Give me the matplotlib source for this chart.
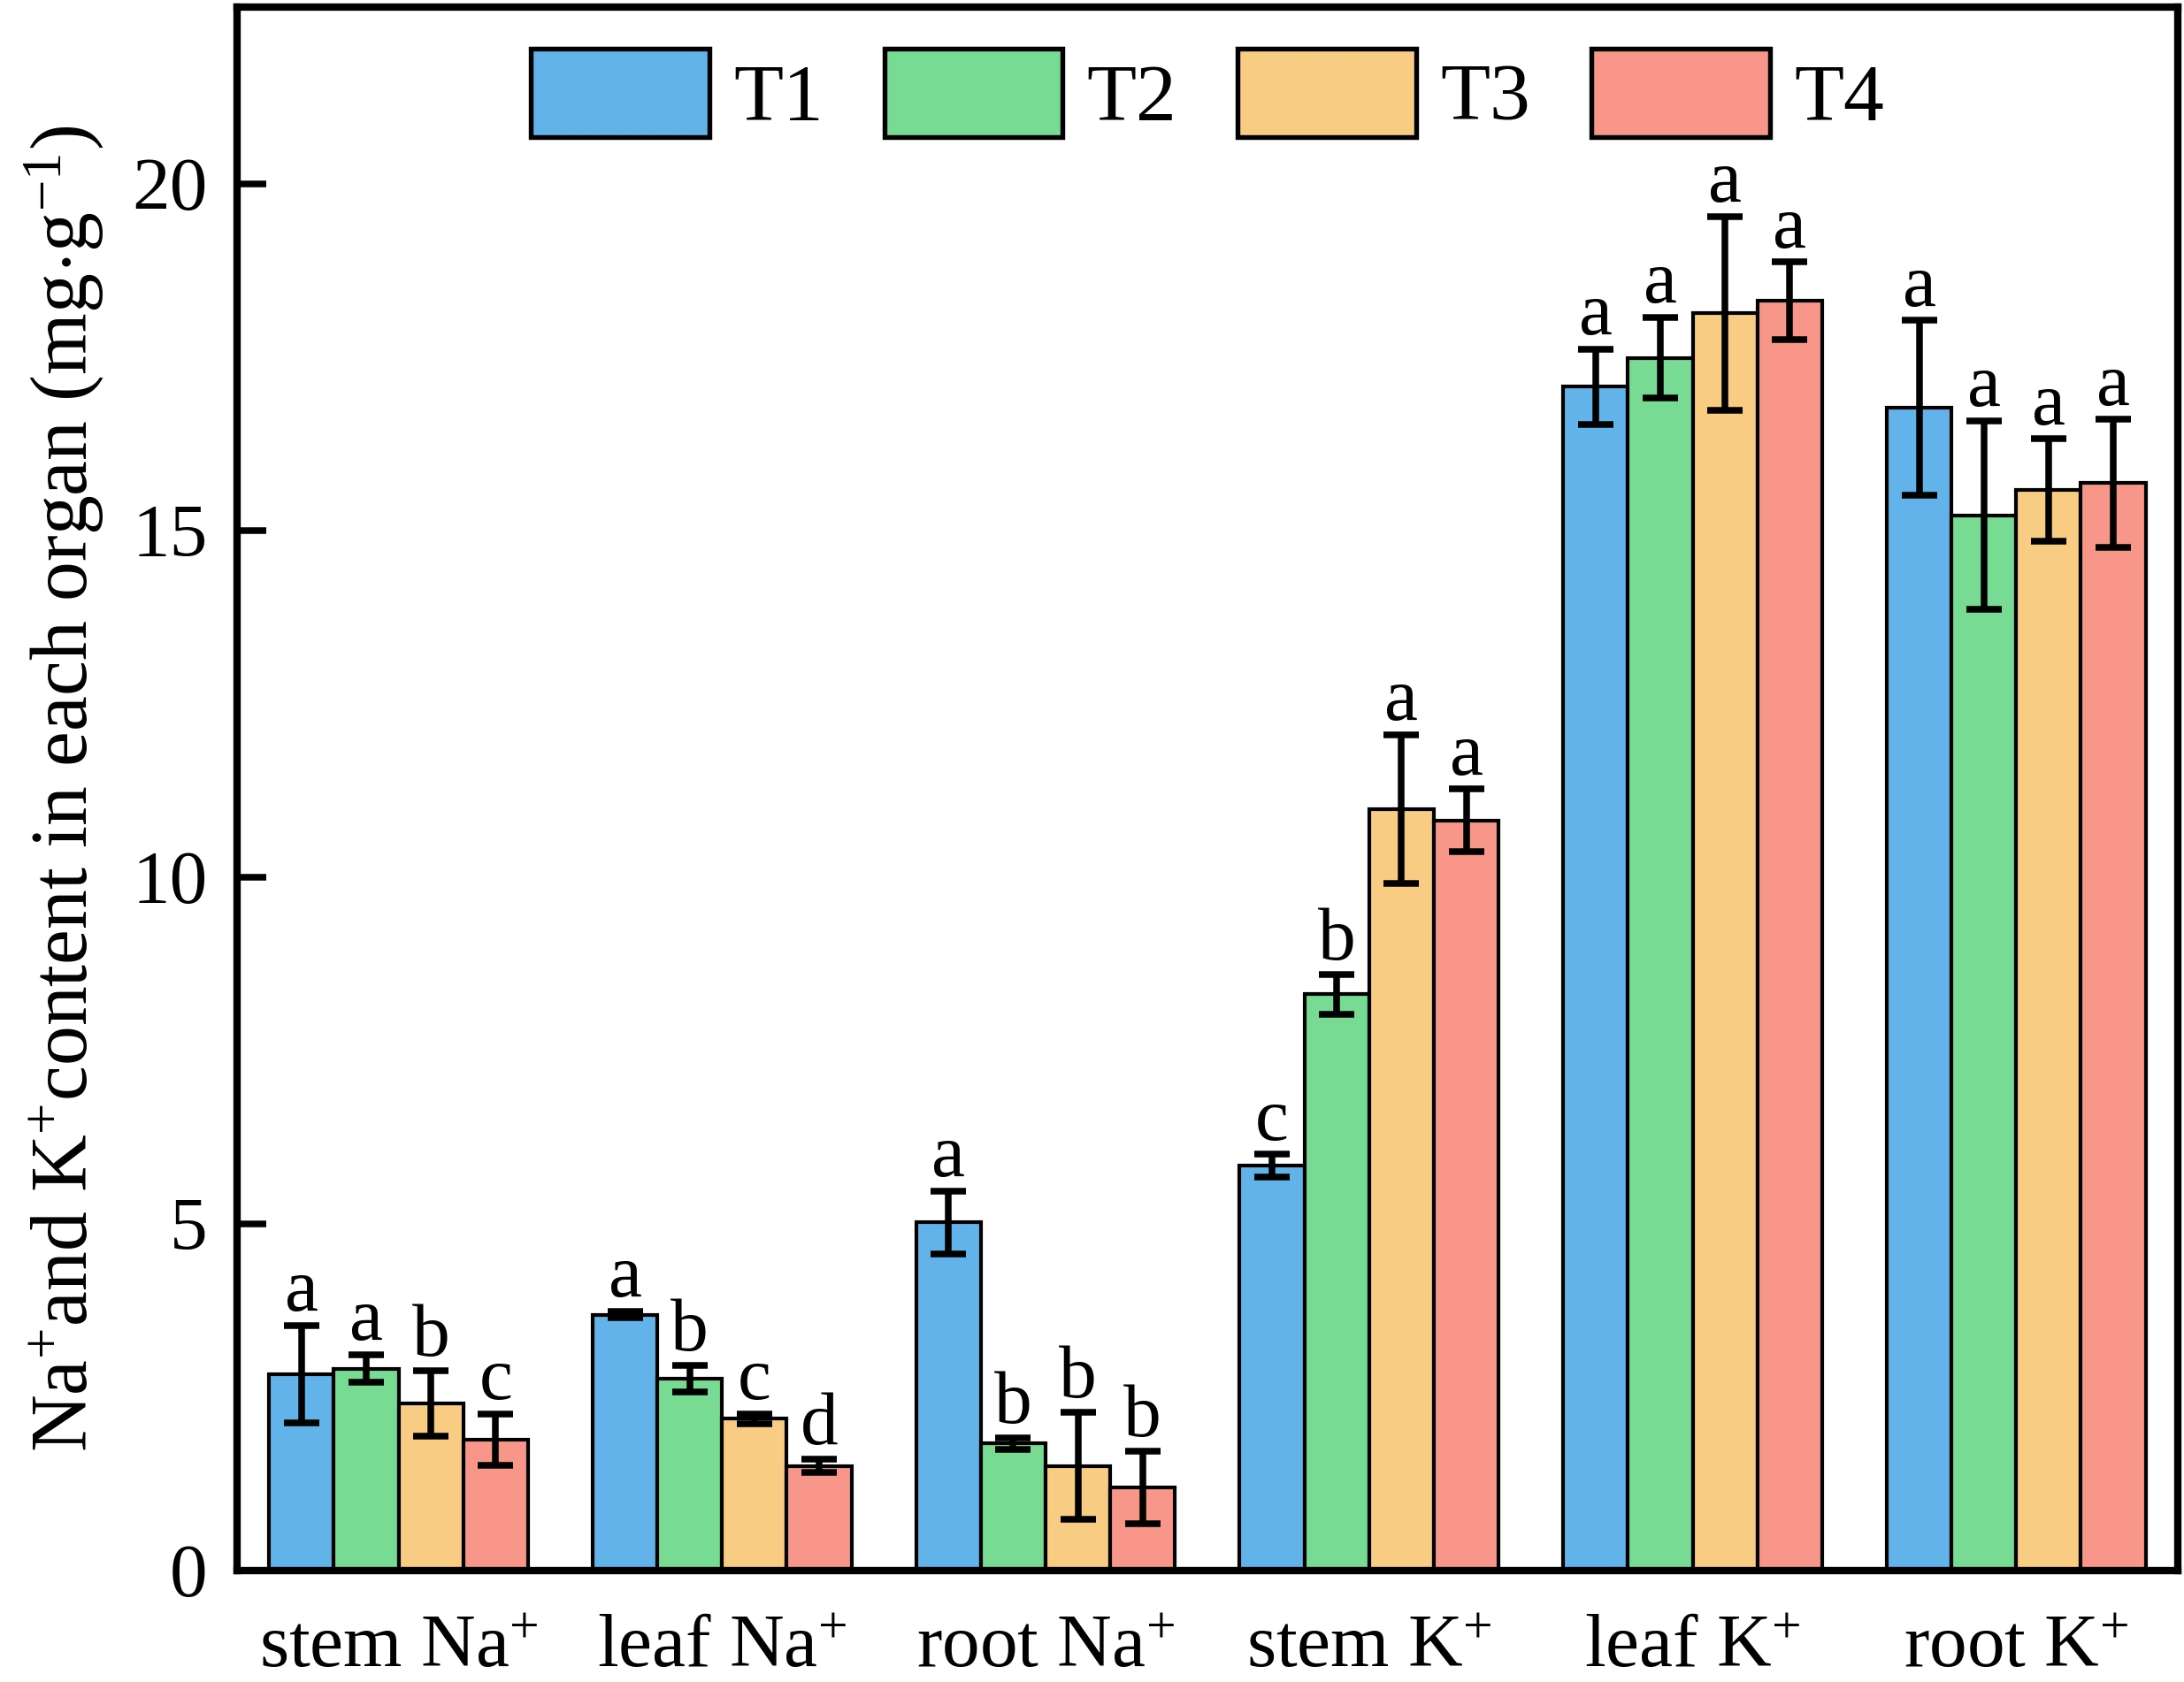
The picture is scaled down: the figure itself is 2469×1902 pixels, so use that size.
import numpy as np
import matplotlib
matplotlib.use("Agg")
import matplotlib.pyplot as plt

plt.rcParams['font.family'] = ['Liberation Serif', 'DejaVu Serif']
plt.rcParams['mathtext.fontset'] = 'custom'
plt.rcParams['mathtext.rm'] = 'Liberation Serif'
plt.rcParams['mathtext.it'] = 'Liberation Serif:italic'
plt.rcParams['mathtext.bf'] = 'Liberation Serif:bold'

categories = ["stem Na$^{+}$", "leaf Na$^{+}$", "root Na$^{+}$", "stem K$^{+}$", "leaf K$^{+}$", "root K$^{+}$"]
series = ["T1", "T2", "T3", "T4"]
colors = ["#63B3EB", "#77DB93", "#F8CC82", "#F8968A"]

T1 = [2.83, 3.69, 5.02, 5.84, 17.07, 16.77]
T2 = [2.91, 2.77, 1.83, 8.31, 17.49, 15.22]
T3 = [2.41, 2.19, 1.51, 10.98, 18.13, 15.58]
T4 = [1.89, 1.51, 1.20, 10.82, 18.31, 15.68]

T1_err = [0.70, 0.05, 0.45, 0.16, 0.54, 1.26]
T2_err = [0.20, 0.19, 0.08, 0.29, 0.58, 1.36]
T3_err = [0.47, 0.07, 0.77, 1.07, 1.40, 0.74]
T4_err = [0.37, 0.10, 0.52, 0.45, 0.56, 0.92]

T1_sig = ["a", "a", "a", "c", "a", "a"]
T2_sig = ["a", "b", "b", "b", "a", "a"]
T3_sig = ["b", "c", "b", "a", "a", "a"]
T4_sig = ["c", "d", "b", "a", "a", "a"]

values = [T1, T2, T3, T4]
errors = [T1_err, T2_err, T3_err, T4_err]
sigs = [T1_sig, T2_sig, T3_sig, T4_sig]

fig = plt.figure(figsize=(2470/300, 1902/300), dpi=300)
ax = fig.add_axes([0.1084, 0.0663, 0.8884, 0.9296])

x = np.arange(len(categories))
w = 0.2
for i, (s, v, e, sg, c) in enumerate(zip(series, values, errors, sigs, colors)):
    pos = x + (i - 1.5) * w
    ax.bar(pos, v, width=w, color=c, edgecolor='black', linewidth=1.0, label=s, zorder=2)
    eb = ax.errorbar(pos, v, yerr=e, fmt='none', ecolor='black', elinewidth=1.8,
                     capsize=4.7, capthick=1.8, zorder=3)
    for cap in eb[1]:
        cap.set_solid_capstyle('round')
    for xp, yv, ev, lab in zip(pos, v, e, sg):
        ax.annotate(lab, (xp, yv + ev), xytext=(0, 4), textcoords='offset points',
                    ha='center', va='baseline', fontsize=20.5)

ax.set_xlim(-0.5, 5.5)
ax.set_ylim(0, 22.55)
ax.set_yticks([0, 5, 10, 15, 20])
ax.set_xticks(x)
ax.set_xticklabels(categories, fontsize=20.5)
ax.tick_params(axis='y', direction='in', length=8, width=1.8, labelsize=20.5, pad=8)
ax.tick_params(axis='x', direction='in', length=7, width=1.8, pad=12)
for sp in ax.spines.values():
    sp.set_linewidth(2.0)

ax.set_ylabel("Na$^{+}$and K$^{+}$content in each organ (mg$\\cdot$g$^{-1}$)", fontsize=21.5, labelpad=7)

leg = ax.legend(loc='center', bbox_to_anchor=(0.5, 0.945), ncol=4, frameon=False,
                fontsize=22, handlelength=2.2, handleheight=1.3, handletextpad=0.3,
                columnspacing=0.75)
for p in leg.get_patches():
    p.set_linewidth(1.3)

fig.savefig("out.png", dpi=300)
